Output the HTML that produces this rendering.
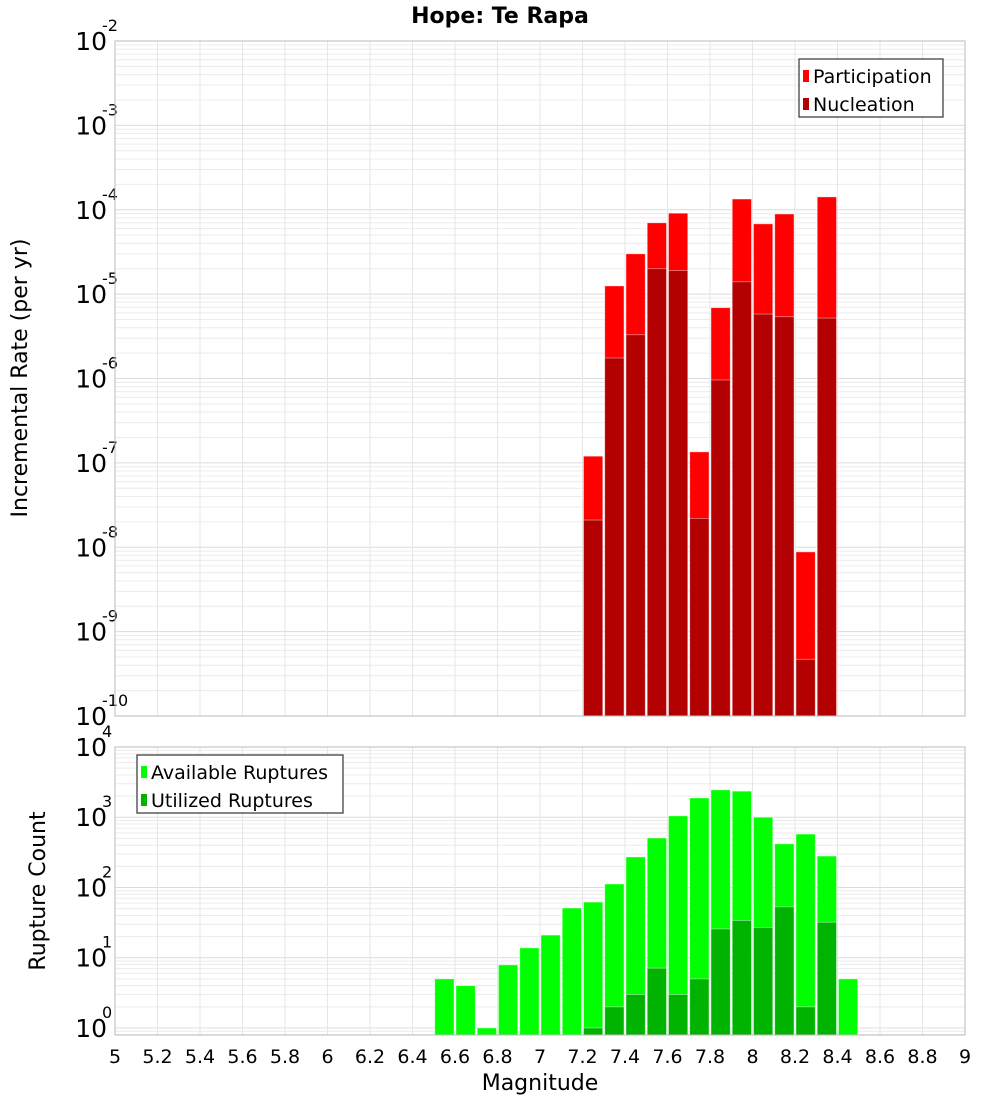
<!DOCTYPE html>
<html><head><meta charset="utf-8"><style>
body{margin:0;background:#fff;}
svg{font-family:"Liberation Sans","DejaVu Sans",sans-serif;display:block;}
</style></head><body>
<svg id="chart" width="1000" height="1100" viewBox="0 0 1000 1100" xmlns="http://www.w3.org/2000/svg">
<text x="500" y="23" text-anchor="middle" font-size="22" font-weight="bold" font-family="DejaVu Sans, sans-serif">Hope: Te Rapa</text>
<g id="top"></g><g id="bot"></g>
<text transform="translate(27,378) rotate(-90)" text-anchor="middle" font-size="22" font-family="DejaVu Sans, sans-serif">Incremental Rate (per yr)</text>
<text transform="translate(45,891) rotate(-90)" text-anchor="middle" font-size="22" font-family="DejaVu Sans, sans-serif">Rupture Count</text>
<text x="540" y="1090" text-anchor="middle" font-size="22" font-family="DejaVu Sans, sans-serif">Magnitude</text>
</svg>
<script>
const topMags=[7.25,7.35,7.45,7.55,7.65,7.75,7.85,7.95,8.05,8.15,8.25,8.35];
const participation=[1.2e-7,1.25e-5,3.0e-5,7.0e-5,9.1e-5,1.35e-7,6.9e-6,1.34e-4,6.8e-5,8.9e-5,8.8e-9,1.42e-4];
const nucleation=[2.1e-8,1.75e-6,3.3e-6,2.0e-5,1.9e-5,2.2e-8,9.6e-7,1.4e-5,5.8e-6,5.4e-6,4.7e-10,5.2e-6];
const availMags=[6.55,6.65,6.75,6.85,6.95,7.05,7.15,7.25,7.35,7.45,7.55,7.65,7.75,7.85,7.95,8.05,8.15,8.25,8.35,8.45];
const available=[5,4,1,7.9,13.8,21,51,62,112,272,506,1045,1880,2450,2350,1000,418,576,280,5];
const utilMags=[7.25,7.35,7.45,7.55,7.65,7.75,7.85,7.95,8.05,8.15,8.25,8.35];
const utilized=[1,2,3,7.1,3,5,25.7,34,27,53,2,32];
const xTicks=[5,5.2,5.4,5.6,5.8,6,6.2,6.4,6.6,6.8,7,7.2,7.4,7.6,7.8,8,8.2,8.4,8.6,8.8,9];
const topExps=[-2,-3,-4,-5,-6,-7,-8,-9,-10];
const botExps=[0,1,2,3,4];

const NS="http://www.w3.org/2000/svg";
const X0=115,X1=965;
const xs=m=>X0+(m-5)/4*(X1-X0);
function mk(parent,tag,attrs){const e=document.createElementNS(NS,tag);for(const k in attrs)e.setAttribute(k,attrs[k]);parent.appendChild(e);return e;}

function panel(g,yTop,yBot,lmax,lmin,exps,prefix){
  const ys=v=>yTop+(lmax-Math.log10(v))/(lmax-lmin)*(yBot-yTop);
  const bg=mk(g,'rect',{x:X0,y:yTop,width:X1-X0,height:yBot-yTop,fill:'#fff'});
  
  
  for(let e=Math.floor(lmin);e<lmax;e++){
    for(let k=1;k<10;k++){
      const lv=e+Math.log10(k); if(lv<lmin||lv>lmax)continue;
      const y=ys(Math.pow(10,lv));
      const l=mk(g,'line',{x1:X0,x2:X1,y1:y,y2:y,stroke:k===1?'#dcdcdc':'#ececec','stroke-width':1});
      
      
    }
  }
  xTicks.forEach(t=>{const x=xs(t);
    const l=mk(g,'line',{x1:x,x2:x,y1:yTop,y2:yBot,stroke:'#e6e6e6','stroke-width':1});
    
    });
  exps.forEach(e=>{const y=ys(Math.pow(10,e));
    const t=mk(g,'text',{x:107,y:y+9,'text-anchor':'end','font-size':25,'font-family':'DejaVu Sans, sans-serif'});
    
    
    t.textContent='10';
    const s=mk(g,'text',{x:102,y:y-10,'font-size':16,'font-family':'DejaVu Sans, sans-serif'});
    
    
    s.textContent=String(e);
  });
  return ys;
}
function bars(g,ys,yBot,mags,vals,color,name){
  mags.forEach((m,i)=>{
    const x=xs(m-0.05)+1,w=xs(m+0.05)-xs(m-0.05)-2,y=ys(vals[i]);
    const r=mk(g,'rect',{x:x,y:y,width:w,height:yBot-y,fill:color,stroke:'#ffffff','stroke-opacity':0.5,'stroke-width':0.8});
    
    
  });
}
function legend(g,x,y,w,items,prefix){
  const b=mk(g,'rect',{x:x,y:y,width:w,height:58,fill:'#fff',stroke:'#333','stroke-width':1.2});
  
  
  items.forEach((it,i)=>{
    const sw=mk(g,'rect',{x:x+4,y:y+11+i*28,width:6,height:12,fill:it[1]});
    
    
    const t=mk(g,'text',{x:x+14,y:y+24+i*28,'font-size':19,'font-family':'DejaVu Sans, sans-serif'});
    
    
    t.textContent=it[0];
  });
}
const gt=document.getElementById('top'), gb=document.getElementById('bot');
const ysT=panel(gt,41,716,-2,-10,topExps,'top');
bars(gt,ysT,716,topMags,participation,'#ff0000','participation-bar');
bars(gt,ysT,716,topMags,nucleation,'#b30000','nucleation-bar');
const bt=mk(gt,'rect',{x:X0,y:41,width:X1-X0,height:675,fill:'none',stroke:'#bbb'});


legend(gt,799,59,144,[['Participation','#ff0000'],['Nucleation','#b30000']],'top');

const ysB=panel(gb,747,1035,4,-0.1,botExps,'bottom');
bars(gb,ysB,1035,availMags,available,'#00ff00','available-bar');
bars(gb,ysB,1035,utilMags,utilized,'#00b300','utilized-bar');
const bb=mk(gb,'rect',{x:X0,y:747,width:X1-X0,height:288,fill:'none',stroke:'#bbb'});


legend(gb,137,755,206,[['Available Ruptures','#00ff00'],['Utilized Ruptures','#00b300']],'bottom');
xTicks.forEach(t=>{
  const tx=mk(gb,'text',{x:xs(t),y:1063,'text-anchor':'middle','font-size':19,'font-family':'DejaVu Sans, sans-serif'});
  
  
  tx.textContent=String(t);
});
</script>
</body></html>
